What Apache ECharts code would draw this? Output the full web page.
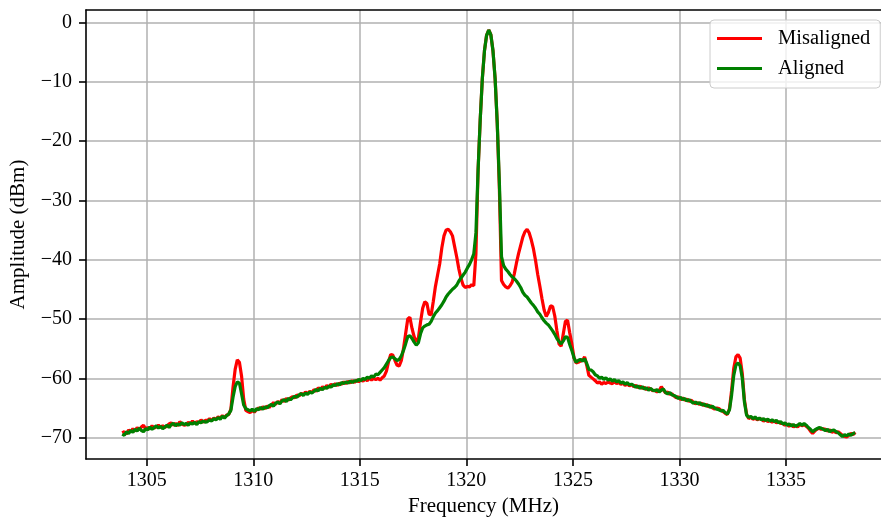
<!DOCTYPE html>
<html>
<head>
<meta charset="utf-8">
<title>Amplitude spectrum</title>
<script src="https://cdn.jsdelivr.net/npm/echarts@6/dist/echarts.min.js"></script>
<style>
  html, body { margin: 0; padding: 0; background: #ffffff; }
  #chart { width: 881px; height: 522px; }
</style>
</head>
<body>
<div id="chart"></div>
<script>
// Frequency grid of the sweep (MHz): first bin and bin spacing
const freqStart = 1303.85;
const freqStep = 0.1;

// Measured amplitude (dBm), one value per frequency bin, 1 MHz per row
const misaligned = [
  -69.2, -69.0, -69.4, -68.7, -69.0, -68.5, -68.9, -68.3, -68.7, -68.2,
  -67.9, -68.6, -68.3, -68.5, -68.0, -68.4, -68.2, -67.9, -68.3, -68.0,
  -68.3, -68.0, -67.7, -67.5, -67.9, -67.6, -68.0, -67.3, -67.7, -67.9,
  -67.8, -67.4, -67.7, -67.2, -67.6, -67.3, -67.5, -67.0, -67.4, -67.1,
  -67.1, -66.8, -67.1, -66.7, -66.9, -66.5, -66.7, -66.3, -66.6, -66.2,
  -66.1, -65.2, -61.5, -58.5, -56.9, -57.3, -59.6, -63.5, -65.4, -65.6,
  -65.8, -65.4, -65.7, -65.3, -65.0, -65.2, -64.8, -65.1, -64.7, -64.9,
  -64.5, -64.1, -64.4, -63.9, -64.2, -63.6, -63.9, -63.4, -63.7, -63.3,
  -63.1, -63.3, -62.8, -63.0, -62.5, -62.8, -62.3, -62.6, -62.2, -62.4,
  -61.9, -62.2, -61.6, -61.9, -61.4, -61.7, -61.2, -61.5, -61.0, -61.3,
  -60.9, -61.2, -60.8, -61.0, -60.6, -60.9, -60.5, -60.8, -60.4, -60.7,
  -60.3, -60.6, -60.2, -60.5, -60.1, -60.4, -60.0, -60.3, -60.0, -60.2,
  -60.0, -60.3, -59.9, -59.6, -58.8, -57.2, -56.0, -56.1, -57.0, -57.8,
  -57.9, -57.0, -55.0, -52.5, -50.0, -49.7, -51.6, -53.0, -53.8, -53.2,
  -50.5, -48.2, -47.1, -47.4, -49.2, -49.3, -47.0, -44.5, -42.6, -40.7,
  -38.0, -36.0, -35.0, -34.9, -35.3, -36.0, -37.8, -39.6, -41.6, -43.2,
  -44.3, -44.7, -44.5, -44.6, -44.2, -44.4, -39.0, -25.0, -16.5, -9.5,
  -4.8, -2.2, -1.3, -2.1, -4.8, -9.5, -17.0, -28.0, -43.5, -44.2,
  -44.6, -44.8, -44.4, -43.8, -42.4, -40.6, -39.0, -37.6, -36.2, -35.3,
  -34.9, -35.5, -36.7, -38.2, -40.2, -42.5, -44.5, -46.6, -48.5, -49.6,
  -48.9, -47.8, -47.9, -49.5, -52.0, -54.2, -54.6, -52.5, -50.4, -50.2,
  -52.3, -54.2, -56.5, -57.4, -57.3, -57.1, -57.0, -56.4, -57.8, -59.5,
  -59.8, -60.1, -60.4, -60.8, -60.6, -61.0, -60.7, -60.9, -60.6, -60.8,
  -60.9, -60.6, -60.9, -60.7, -61.0, -60.8, -61.2, -60.9, -61.3, -61.0,
  -61.4, -61.2, -61.6, -61.3, -61.7, -61.5, -61.9, -61.6, -61.8, -62.1,
  -62.0, -62.3, -62.1, -61.4, -62.0, -62.5, -62.3, -62.7, -62.6, -63.0,
  -63.3, -63.1, -63.6, -63.3, -63.7, -63.5, -63.9, -63.7, -64.0, -64.3,
  -64.1, -64.4, -64.2, -64.6, -64.4, -64.8, -64.6, -65.0, -65.2, -65.0,
  -65.1, -65.4, -65.6, -65.9, -66.1, -65.1, -62.0, -58.3, -56.4, -56.0,
  -56.6, -59.2, -63.6, -66.0, -66.8, -66.5, -66.9, -66.7, -67.0, -66.8,
  -66.9, -67.2, -67.0, -67.3, -67.1, -67.4, -67.2, -67.5, -67.3, -67.6,
  -67.6, -67.9, -67.7, -68.1, -67.8, -68.2, -67.9, -68.2, -67.7, -68.0,
  -67.8, -68.1, -68.4, -68.9, -69.3, -68.9, -68.6, -68.4, -68.6, -68.5,
  -68.6, -68.9, -68.7, -69.1, -68.9, -69.2, -69.0, -69.3, -69.6, -69.8,
  -69.9, -69.6, -69.3, -69.5, -69.1
];

const aligned = [
  -69.4, -69.6, -69.0, -69.3, -68.8, -69.1, -68.6, -68.9, -68.4, -68.8,
  -69.0, -68.5, -68.7, -68.2, -68.6, -68.3, -68.0, -68.4, -68.1, -68.5,
  -68.2, -67.9, -68.3, -67.8, -67.6, -68.0, -67.7, -67.9, -67.5, -67.8,
  -67.6, -67.9, -67.5, -67.7, -67.4, -67.8, -67.3, -67.5, -67.2, -67.4,
  -67.3, -67.0, -67.2, -66.8, -67.0, -66.6, -66.9, -66.4, -66.7, -66.3,
  -66.0, -65.4, -63.2, -61.4, -60.6, -60.8, -62.6, -64.5, -65.1, -65.3,
  -65.5, -65.2, -65.6, -65.1, -65.3, -64.9, -65.2, -64.8, -65.0, -64.6,
  -64.4, -64.7, -64.2, -64.0, -64.3, -63.8, -63.6, -63.9, -63.4, -63.6,
  -63.3, -63.0, -63.2, -62.8, -62.6, -62.9, -62.5, -62.7, -62.3, -62.5,
  -62.2, -61.9, -62.1, -61.7, -61.9, -61.5, -61.7, -61.3, -61.5, -61.1,
  -61.2, -60.9, -61.1, -60.7, -60.9, -60.6, -60.8, -60.5, -60.7, -60.4,
  -60.5, -60.2, -60.4, -60.0, -60.2, -59.8, -60.0, -59.6, -59.8, -59.3,
  -59.4, -59.0, -58.6, -58.2, -57.6, -57.0, -56.5, -56.4, -56.7, -57.0,
  -56.8, -56.2, -55.3, -54.2, -53.0, -52.8, -53.3, -53.9, -54.4, -54.0,
  -52.5, -51.5, -51.2, -51.0, -50.9, -50.4, -49.6, -49.0, -48.6, -48.1,
  -47.6, -47.0, -46.3, -45.8, -45.4, -45.0, -44.7, -44.3, -43.6, -43.1,
  -42.6, -42.1, -41.4, -40.8, -40.0, -39.0, -35.5, -25.0, -16.5, -9.5,
  -4.8, -2.2, -1.3, -2.1, -4.8, -9.5, -17.0, -27.0, -39.5, -41.0,
  -41.6, -42.0, -42.5, -42.9, -43.2, -43.6, -44.1, -44.7, -45.5, -46.0,
  -46.3, -46.8, -47.3, -47.7, -48.2, -48.8, -49.2, -49.8, -50.3, -50.7,
  -51.0, -51.5, -52.0, -52.6, -53.3, -53.8, -54.2, -53.7, -53.0, -53.1,
  -54.3, -55.3, -56.5, -57.3, -57.0, -56.8, -57.1, -56.7, -57.5, -58.5,
  -58.6, -58.9, -59.4, -59.6, -60.0, -59.8, -60.2, -59.9, -60.3, -60.1,
  -60.5, -60.2, -60.6, -60.4, -60.8, -60.6, -61.0, -60.7, -61.1, -61.0,
  -61.2, -61.5, -61.3, -61.7, -61.4, -61.8, -61.6, -62.0, -61.7, -62.0,
  -62.1, -61.9, -62.3, -62.0, -61.8, -62.4, -62.6, -62.4, -62.8, -62.9,
  -63.1, -63.4, -63.2, -63.6, -63.4, -63.8, -63.6, -63.9, -64.2, -64.0,
  -64.3, -64.1, -64.5, -64.3, -64.7, -64.5, -64.9, -64.7, -65.0, -65.2,
  -65.3, -65.5, -65.4, -65.8, -66.0, -65.3, -62.8, -59.5, -57.8, -57.4,
  -57.9, -60.0, -64.0, -66.2, -66.6, -66.4, -66.8, -66.5, -66.9, -66.7,
  -67.0, -66.8, -67.1, -66.9, -67.2, -67.0, -67.3, -67.1, -67.5, -67.3,
  -67.7, -67.5, -67.9, -67.7, -68.0, -67.8, -68.1, -67.9, -67.6, -67.9,
  -67.6, -67.9, -68.3, -68.6, -69.0, -68.7, -68.5, -68.3, -68.4, -68.6,
  -68.8, -68.6, -69.0, -68.8, -68.7, -69.0, -69.2, -69.5, -69.8, -69.5,
  -69.7, -69.4, -69.6, -69.3, -69.2
];

const seriesNames = ['Misaligned', 'Aligned'];
const seriesColors = ['#ff0000', '#008000'];

const xTicks = [1305, 1310, 1315, 1320, 1325, 1330, 1335];
const yTicks = [-70, -60, -50, -40, -30, -20, -10, 0];

const xName = 'Frequency (MHz)';
const yName = 'Amplitude (dBm)';

// Frequency of each bin
const freq = misaligned.map((_, i) => +(freqStart + i * freqStep).toFixed(2));

const FONT = '"Liberation Serif", "DejaVu Serif", serif';
const gridColor = '#b0b0b0';

const plainNumber = v => String(v);
const minusSign = v => (v < 0 ? '\u2212' + Math.abs(v) : String(v));

const chart = echarts.init(document.getElementById('chart'), null, { renderer: 'canvas' });

chart.setOption({
  animation: false,
  backgroundColor: '#ffffff',
  grid: { left: 86, right: 0, top: 10, bottom: 63, containLabel: false },
  legend: {
    data: seriesNames,
    orient: 'vertical',
    left: 710,
    top: 20,
    padding: [8, 10, 9, 7],
    itemGap: 9,
    itemWidth: 45,
    itemHeight: 3,
    icon: 'rect',
    backgroundColor: 'rgba(255,255,255,0.8)',
    borderColor: '#cccccc',
    borderWidth: 1,
    borderRadius: 4,
    textStyle: { fontFamily: FONT, fontSize: 20.5, color: '#000000', padding: [0, 0, 0, 11] }
  },
  xAxis: [
    {
      type: 'value',
      min: 1302.15,
      max: 1339.46,
      name: xName,
      nameLocation: 'middle',
      nameGap: 37,
      nameTextStyle: { fontFamily: FONT, fontSize: 21, color: '#000000' },
      axisLine: { show: true, onZero: false, lineStyle: { color: '#000000', width: 1.6 } },
      axisTick: { show: true, inside: false, length: 7, customValues: xTicks, lineStyle: { color: '#000000', width: 1.6 } },
      axisLabel: { customValues: xTicks, margin: 12, fontFamily: FONT, fontSize: 20, color: '#000000', formatter: plainNumber },
      splitLine: { show: true, lineStyle: { color: gridColor, width: 1.5 } }
    },
    {
      type: 'value',
      position: 'top',
      min: 1302.15,
      max: 1339.46,
      axisLine: { show: true, onZero: false, lineStyle: { color: '#000000', width: 1.6 } },
      axisTick: { show: false },
      axisLabel: { show: false },
      splitLine: { show: false }
    }
  ],
  yAxis: {
    type: 'value',
    min: -73.6,
    max: 2.07,
    name: yName,
    nameLocation: 'middle',
    nameGap: 57,
    nameTextStyle: { fontFamily: FONT, fontSize: 21, color: '#000000' },
    axisLine: { show: true, onZero: false, lineStyle: { color: '#000000', width: 1.6 } },
    axisTick: { show: true, inside: false, length: 7, customValues: yTicks, lineStyle: { color: '#000000', width: 1.6 } },
    axisLabel: { customValues: yTicks, margin: 14, fontFamily: FONT, fontSize: 20, color: '#000000', formatter: minusSign },
    splitLine: { show: true, lineStyle: { color: gridColor, width: 1.5 } }
  },
  series: [misaligned, aligned].map((vals, k) => ({
    name: seriesNames[k],
    type: 'line',
    xAxisIndex: 0,
    data: vals.map((v, i) => [freq[i], v]),
    symbol: 'none',
    showSymbol: false,
    smooth: false,
    color: seriesColors[k],
    lineStyle: { color: seriesColors[k], width: 3.2 },
    emphasis: { disabled: true },
    z: 2 + k
  }))
});
</script>
</body>
</html>
